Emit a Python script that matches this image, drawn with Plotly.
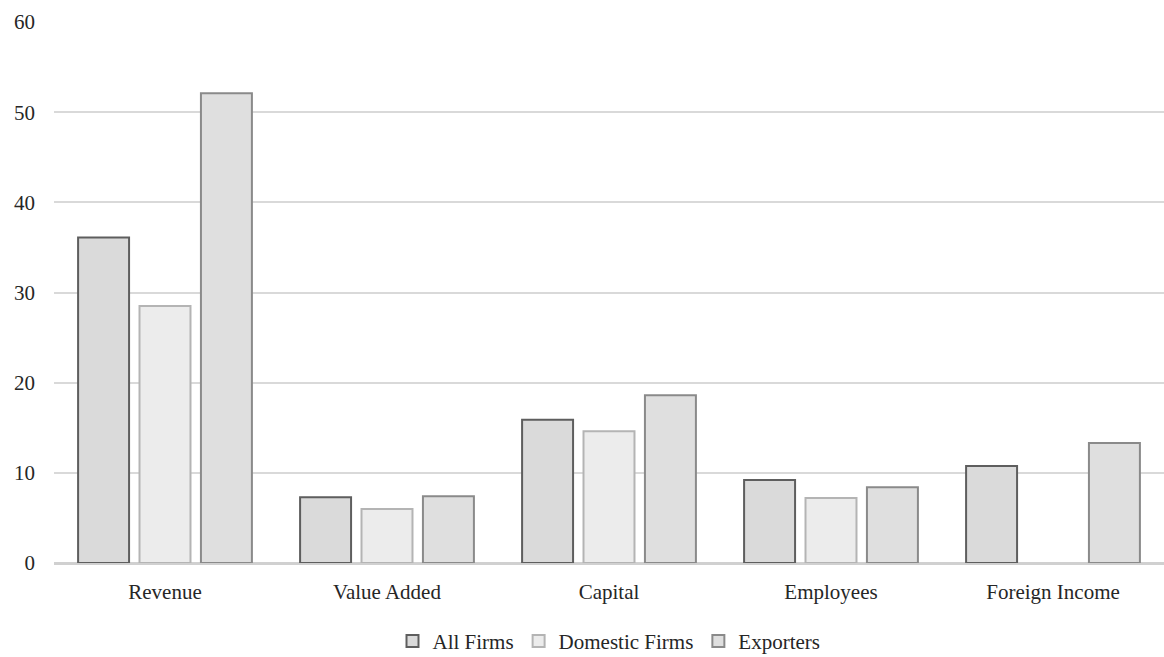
import plotly.graph_objects as go

categories = ["Revenue", "Value Added", "Capital", "Employees", "Foreign Income"]
all_firms = [36.1, 7.3, 15.9, 9.2, 10.75]
domestic_firms = [28.5, 6.0, 14.6, 7.2, None]
exporters = [52.1, 7.4, 18.6, 8.4, 13.3]
y_ticks = [0, 10, 20, 30, 40, 50, 60]

FONT = "Liberation Serif"
TEXT = "#262626"

series = [
    ("All Firms", all_firms, "#dadada", "#5e5e5e"),
    ("Domestic Firms", domestic_firms, "#ececec", "#b4b4b4"),
    ("Exporters", exporters, "#dfdfdf", "#8a8a8a"),
]

fig = go.Figure()
for name, vals, fill, edge in series:
    fig.add_trace(go.Bar(
        name=name,
        x=categories,
        y=vals,
        marker=dict(color=fill, line=dict(color=edge, width=2)),
    ))

fig.update_layout(
    barmode="group",
    bargap=0.17,
    bargroupgap=0.17,
    width=1164,
    height=657,
    margin=dict(l=54, r=0, t=22, b=94, autoexpand=False),
    paper_bgcolor="white",
    plot_bgcolor="white",
    font=dict(family=FONT, size=21, color=TEXT),
    showlegend=True,
    legend=dict(
        orientation="h",
        x=0.5, xanchor="center",
        yref="container",
        y=0.024, yanchor="middle",
        font=dict(family=FONT, size=21, color=TEXT),
        itemwidth=30,
        traceorder="normal",
    ),
    xaxis=dict(
        showgrid=False,
        showline=False,
        zeroline=False,
        ticks="",
        ticklabelstandoff=14,
        tickfont=dict(family=FONT, size=21, color=TEXT),
    ),
    yaxis=dict(
        range=[0, 60],
        tickvals=y_ticks,
        showgrid=True,
        gridcolor="#d9d9d9",
        gridwidth=1.5,
        zeroline=True,
        zerolinecolor="#d0d0d0",
        zerolinewidth=2.5,
        showline=False,
        ticks="",
        ticklabelstandoff=18,
        tickfont=dict(family=FONT, size=21, color=TEXT),
    ),
)

fig.write_html("out.html")
